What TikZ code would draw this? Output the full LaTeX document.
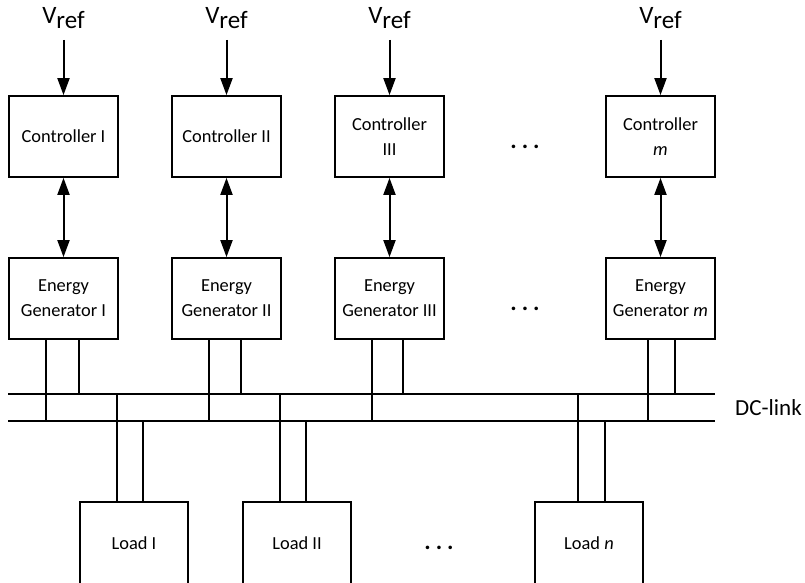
\documentclass[tikz,border=0pt]{standalone}
\usepackage{fontspec}
\setmainfont{Carlito}
\usetikzlibrary{arrows.meta,positioning,calc}
\newcommand{\vrefLabel}{V\raisebox{-5pt}{ref}}

\begin{document}
\begin{tikzpicture}[x=1pt, y=-1pt,
        block/.style={draw, line width=1.8pt, minimum width=109pt, minimum height=81pt, align=center, inner sep=2pt, font=\fontsize{18.4}{25}\selectfont},
        load/.style={block, minimum width=108pt, minimum height=82pt},
        vref/.style={inner sep=0pt, outer ysep=11pt, font=\fontsize{25}{27}\selectfont},
        dots/.style={font=\fontsize{24}{26}\selectfont\bfseries},
        arrow/.style={-{Triangle[length=17pt,width=12pt]}, line width=2pt},
        biarrow/.style={{Triangle[length=17pt,width=12pt]}-{Triangle[length=17pt,width=12pt]}, line width=2pt},
        bus/.style={line width=2pt},
        port/.style={line width=2.5pt}
    ]
        \useasboundingbox (0,0) rectangle (805,583);

        \node[block] (c1) at (63.5,136.5) {Controller I};
        \node[block, right=52.2pt of c1] (c2) {Controller II};
        \node[block, right=52.2pt of c2] (c3) {Controller\\III};
        \node[block, right=160.2pt of c3] (cm) {Controller\\\textit{m}};

        \node[block, below=79.2pt of c1] (g1) {Energy\\Generator I};
        \node[block, below=79.2pt of c2] (g2) {Energy\\Generator II};
        \node[block, below=79.2pt of c3] (g3) {Energy\\Generator III};
        \node[block, below=79.2pt of cm] (gm) {Energy\\Generator \textit{m}};

        \node[vref, above=55.1pt of c1] (v1) {\vrefLabel};
        \node[vref, above=55.1pt of c2] (v2) {\vrefLabel};
        \node[vref, above=55.1pt of c3] (v3) {\vrefLabel};
        \node[vref, above=55.1pt of cm] (vm) {\vrefLabel};

        \node[load] (l1) at (134,543) {Load I};
        \node[load, right=53.2pt of l1] (l2) {Load II};
        \node[load, right=182.2pt of l2] (ln) {Load \textit{n}};

        \node[dots, yshift=-10pt] (cdots) at ($(c3)!0.5!(cm)$) {.\hspace{5pt}.\hspace{5pt}.};
        \node[dots, yshift=-10pt] (gdots) at ($(g3)!0.5!(gm)$) {.\hspace{5pt}.\hspace{5pt}.};
        \node[dots, xshift=-4pt, yshift=-4.5pt] (ldots) at ($(l2)!0.5!(ln)$) {.\hspace{5pt}.\hspace{5pt}.};

        \coordinate (busPw) at (8,394);
        \coordinate (busPe) at (715,394);
        \coordinate (busNw) at (8,421);
        \coordinate (busNe) at (715,421);
        \node[right=20pt, inner sep=0pt, font=\fontsize{23}{25}\selectfont] (dclink) at ($(busPe)!0.5!(busNe)$) {DC-link};

        \draw[arrow] (v1) -- (c1);
        \draw[arrow] (v2) -- (c2);
        \draw[arrow] (v3) -- (c3);
        \draw[arrow] (vm) -- (cm);
        \draw[biarrow] (c1) -- (g1);
        \draw[biarrow] (c2) -- (g2);
        \draw[biarrow] (c3) -- (g3);
        \draw[biarrow] (cm) -- (gm);

        \draw[bus] (busPw) -- (busPe);
        \draw[bus] (busNw) -- (busNe);

        \draw[port] ([xshift=38pt]g1.south west) -- ([xshift=38pt]g1.south west |- busNw);
        \draw[port] ([xshift=71pt]g1.south west) -- ([xshift=71pt]g1.south west |- busPw);
        \draw[port] ([xshift=38pt]g2.south west) -- ([xshift=38pt]g2.south west |- busNw);
        \draw[port] ([xshift=70pt]g2.south west) -- ([xshift=70pt]g2.south west |- busPw);
        \draw[port] ([xshift=38pt]g3.south west) -- ([xshift=38pt]g3.south west |- busNw);
        \draw[port] ([xshift=69pt]g3.south west) -- ([xshift=69pt]g3.south west |- busPw);
        \draw[port] ([xshift=43pt]gm.south west) -- ([xshift=43pt]gm.south west |- busNw);
        \draw[port] ([xshift=70pt]gm.south west) -- ([xshift=70pt]gm.south west |- busPw);

        \draw[port] ([xshift=38pt]l1.north west) -- ([xshift=38pt]l1.north west |- busPw);
        \draw[port] ([xshift=64pt]l1.north west) -- ([xshift=64pt]l1.north west |- busNw);
        \draw[port] ([xshift=38pt]l2.north west) -- ([xshift=38pt]l2.north west |- busPw);
        \draw[port] ([xshift=64pt]l2.north west) -- ([xshift=64pt]l2.north west |- busNw);
        \draw[port] ([xshift=44pt]ln.north west) -- ([xshift=44pt]ln.north west |- busPw);
        \draw[port] ([xshift=71pt]ln.north west) -- ([xshift=71pt]ln.north west |- busNw);
    \end{tikzpicture}
\end{document}
